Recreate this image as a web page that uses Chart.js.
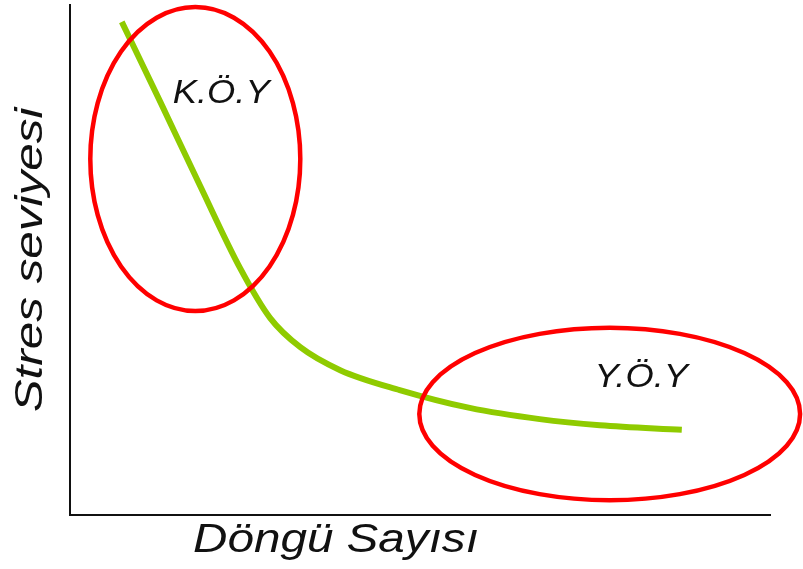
<!DOCTYPE html>
<html lang="tr">
<head>
<meta charset="utf-8">
<title>Stres seviyesi - Döngü Sayısı</title>
<script src="https://cdn.jsdelivr.net/npm/chart.js@4.4.1/dist/chart.umd.min.js"></script>
<style>
  html, body { margin: 0; padding: 0; background: #fff; }
  #wrap { width: 803px; height: 569px; }
</style>
</head>
<body>
<div id="wrap"><canvas id="fatigueChart" width="803" height="569"></canvas></div>
<script>
// Curve: stress level against cycle count (axis units 0-100)
const cycleValues  = [7.4, 12.9, 18.6, 24.3, 28.6, 32.9, 38.6, 47.1, 57.1, 67.1, 75.7, 87.4];
const stressValues = [96.7, 81.0, 64.5, 48.4, 38.6, 32.9, 28.4, 24.5, 21.0, 18.8, 17.6, 16.7];

// Highlighted regions (axis units): label, centre x/y, radius x/y, label anchor x/y
const regionLabels  = ['K.Ö.Y', 'Y.Ö.Y'];
const regionCenterX = [17.9, 77.1];
const regionCenterY = [69.8, 19.8];
const regionRadiusX = [15.0, 27.2];
const regionRadiusY = [29.8, 16.9];
const labelX        = [21.6, 81.6];
const labelY        = [80.8, 25.1];

const xTitle = 'Döngü Sayısı';
const yTitle = 'Stres seviyesi';

const FONT = '"Liberation Sans", Arial, sans-serif';

// Draws the red ellipses, their labels and the wide italic axis titles
const overlayPlugin = {
  id: 'overlay',
  afterDraw(chart) {
    const { ctx, scales: { x, y }, chartArea } = chart;

    ctx.save();
    ctx.strokeStyle = '#ff0000';
    ctx.lineWidth = 4.5;
    regionLabels.forEach((label, i) => {
      const cx = x.getPixelForValue(regionCenterX[i]);
      const cy = y.getPixelForValue(regionCenterY[i]);
      const rx = Math.abs(x.getPixelForValue(regionCenterX[i] + regionRadiusX[i]) - cx);
      const ry = Math.abs(y.getPixelForValue(regionCenterY[i] + regionRadiusY[i]) - cy);
      ctx.beginPath();
      ctx.ellipse(cx, cy, rx, ry, 0, 0, Math.PI * 2);
      ctx.stroke();
    });
    ctx.restore();

    // stretched italic text helper
    const drawText = (text, px, py, size, stretch, angle) => {
      ctx.save();
      ctx.translate(px, py);
      ctx.rotate(angle);
      ctx.scale(stretch, 1);
      ctx.font = `italic ${size}px ${FONT}`;
      ctx.fillStyle = '#111';
      ctx.textAlign = 'center';
      ctx.textBaseline = 'alphabetic';
      ctx.fillText(text, 0, 0);
      ctx.restore();
    };

    regionLabels.forEach((label, i) => {
      drawText(label, x.getPixelForValue(labelX[i]), y.getPixelForValue(labelY[i]), 33, 1.1, 0);
    });

    drawText(xTitle, chartArea.left + 266, chartArea.bottom + 37, 40, 1.19, 0);
    drawText(yTitle, chartArea.left - 28, (chartArea.top + chartArea.bottom) / 2, 38, 1.3, -Math.PI / 2);
  }
};

const ctx = document.getElementById('fatigueChart').getContext('2d');
new Chart(ctx, {
  type: 'scatter',
  data: {
    datasets: [{
      data: cycleValues.map((c, i) => ({ x: c, y: stressValues[i] })),
      showLine: true,
      borderColor: '#8fcb00',
      borderWidth: 6,
      borderCapStyle: 'butt',
      cubicInterpolationMode: 'monotone',
      pointRadius: 0,
      fill: false
    }]
  },
  options: {
    responsive: false,
    animation: false,
    layout: { padding: { left: 70, right: 33, top: 5, bottom: 54 } },
    plugins: {
      legend: { display: false },
      tooltip: { enabled: false }
    },
    scales: {
      x: {
        type: 'linear',
        min: 0,
        max: 100,
        grid: { display: false, drawTicks: false },
        ticks: { display: false },
        border: { display: true, color: '#111', width: 2 }
      },
      y: {
        min: 0,
        max: 100,
        grid: { display: false, drawTicks: false },
        ticks: { display: false },
        border: { display: true, color: '#111', width: 2 }
      }
    }
  },
  plugins: [overlayPlugin]
});
</script>
</body>
</html>
